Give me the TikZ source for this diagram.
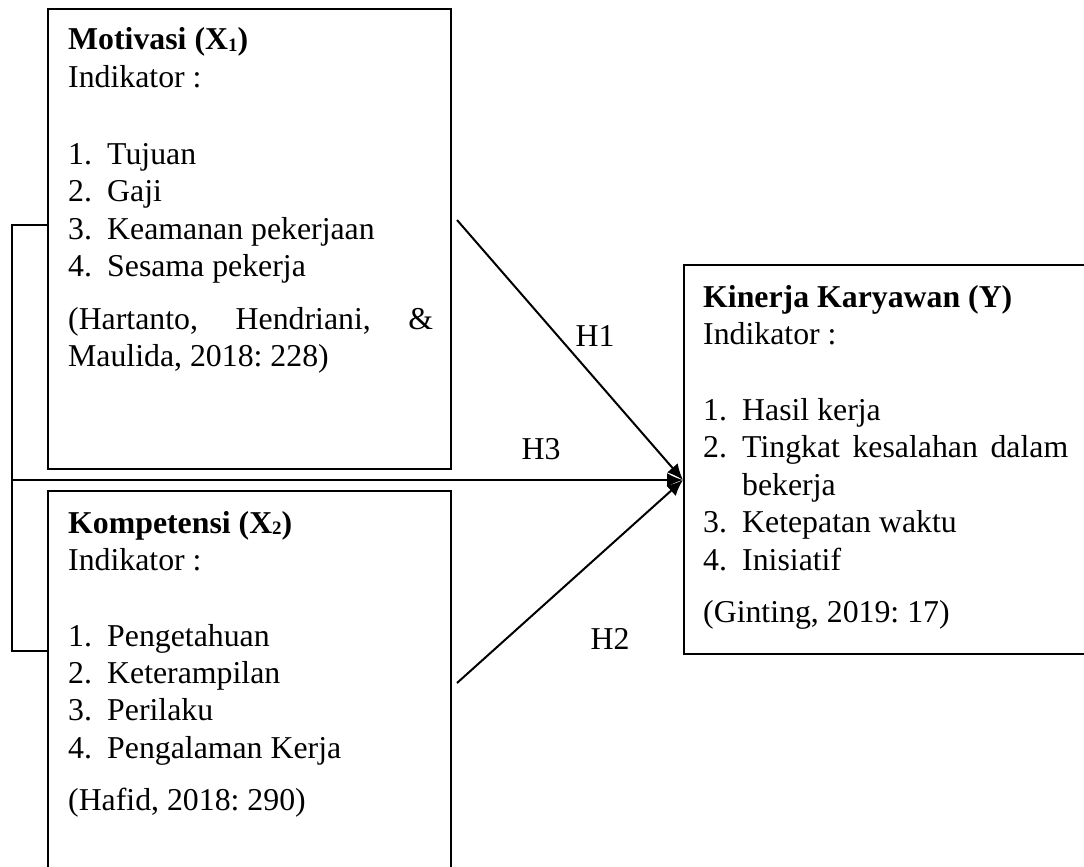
\documentclass[tikz,border=0pt]{standalone}
\usepackage{fontspec}
\setmainfont{Liberation Serif}
\usetikzlibrary{arrows.meta}
\frenchspacing
\newcommand{\subnum}[1]{\raisebox{-1.5pt}{\fontsize{19}{19}\selectfont #1}}
\begin{document}
\begin{tikzpicture}[x=1pt,y=-1pt,
  txt/.style={anchor=base west, inner sep=0pt, font=\fontsize{31.8}{37.5}\selectfont},
  hd/.style={txt, font=\fontsize{31.8}{37.5}\selectfont\bfseries},
  box/.style={draw, line width=2.2pt, inner sep=0pt, anchor=north west},
  conn/.style={line width=2pt},
  arr/.style={-{Latex[length=16pt,width=14pt]}, line width=2pt}]
\useasboundingbox (0,0) rectangle (1084,867);
% boxes
\node[box, minimum width=403, minimum height=460] (mot) at (47,8) {};
\node[box, minimum width=403, minimum height=400] (kom) at (47,490) {};
\node[box, minimum width=420, minimum height=389] (kin) at (683,264) {};
% connection points
\coordinate (tip) at (683,480);
\coordinate (bl) at (12,480);
\coordinate (s1) at (457,220);
\coordinate (s2) at (457,683);
% bracket and arrows
\draw[conn] (mot.west |- 0,225) -- (12,225) -- (12,651) -- (kom.west |- 0,651);
\draw[arr] (bl) -- (tip);
\draw[arr] (s1) -- (tip);
\draw[arr] (s2) -- (tip);
% labels
\node[txt, anchor=base] (h1) at (595,346) {H1};
\node[txt, anchor=base] (h3) at (541,459) {H3};
\node[txt, anchor=base] (h2) at (610,649) {H2};
% Motivasi
\node[hd] (m0) at (68,50) {Motivasi (X\subnum{1})};
\node[txt] (m1) at (68,88) {Indikator :};
\node[txt] (m2n) at (68,164) {1.};
\node[txt] (m2) at (107,164) {Tujuan};
\node[txt] (m3n) at (68,201) {2.};
\node[txt] (m3) at (107,201) {Gaji};
\node[txt] (m4n) at (68,239) {3.};
\node[txt] (m4) at (107,239) {Keamanan pekerjaan};
\node[txt] (m5n) at (68,276) {4.};
\node[txt] (m5) at (107,276) {Sesama pekerja};
\node[txt] (m6) at (68,329) {\makebox[365pt][s]{(Hartanto, Hendriani, \&}};
\node[txt] (m7) at (68,366) {Maulida, 2018: 228)};
% Kompetensi
\node[hd] (k0) at (68,533) {Kompetensi (X\subnum{2})};
\node[txt] (k1) at (68,570) {Indikator :};
\node[txt] (k2n) at (68,646) {1.};
\node[txt] (k2) at (107,646) {Pengetahuan};
\node[txt] (k3n) at (68,683) {2.};
\node[txt] (k3) at (107,683) {Keterampilan};
\node[txt] (k4n) at (68,720) {3.};
\node[txt] (k4) at (107,720) {Perilaku};
\node[txt] (k5n) at (68,758) {4.};
\node[txt] (k5) at (107,758) {Pengalaman Kerja};
\node[txt] (k6) at (68,810) {(Hafid, 2018: 290)};
% Kinerja
\node[hd] (y0) at (703,307) {Kinerja Karyawan (Y)};
\node[txt] (y1) at (703,344) {Indikator :};
\node[txt] (y2n) at (703,420) {1.};
\node[txt] (y2) at (742,420) {Hasil kerja};
\node[txt] (y3n) at (703,457) {2.};
\node[txt] (y3) at (742,457) {\makebox[326pt][s]{Tingkat kesalahan dalam}};
\node[txt] (y4) at (742,495) {bekerja};
\node[txt] (y5n) at (703,532) {3.};
\node[txt] (y5) at (742,532) {Ketepatan waktu};
\node[txt] (y6n) at (703,570) {4.};
\node[txt] (y6) at (742,570) {Inisiatif};
\node[txt] (y7) at (703,622) {(Ginting, 2019: 17)};
\end{tikzpicture}
\end{document}
